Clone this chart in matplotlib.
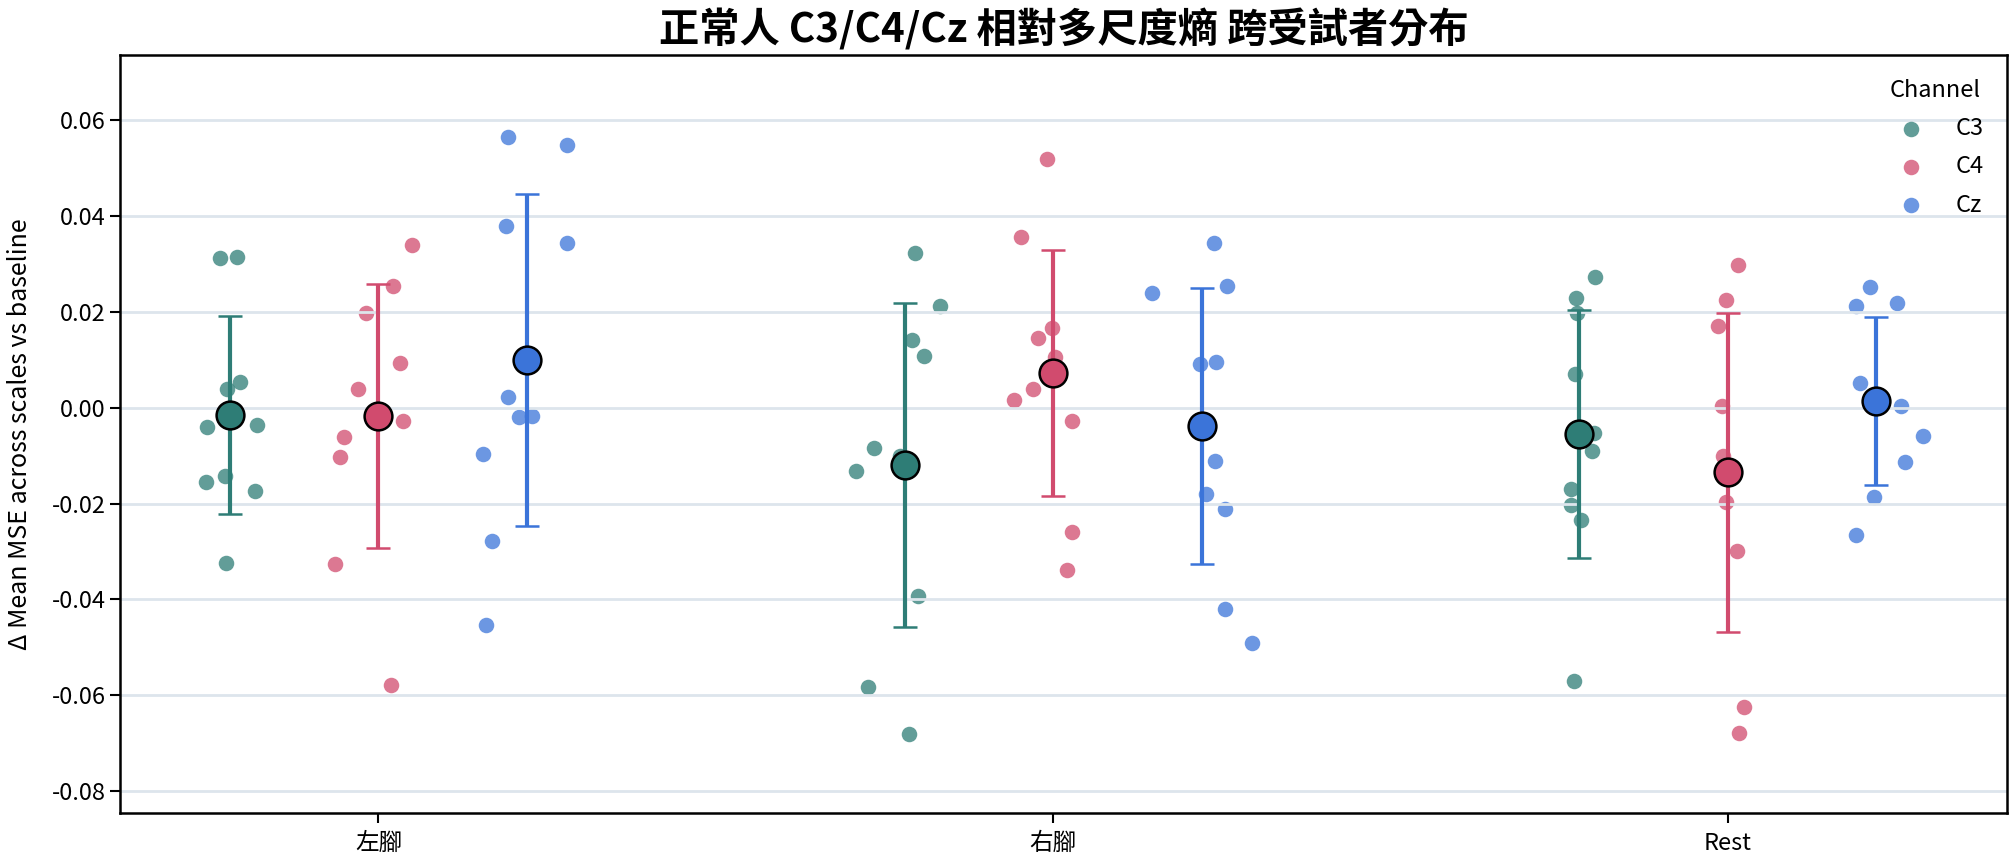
import numpy as np
import matplotlib
matplotlib.use("Agg")
import matplotlib.pyplot as plt

plt.rcParams['font.family'] = ['Noto Sans CJK TC', 'DejaVu Sans']

conditions = ['左腳', '右腳', 'Rest']
channels = ['C3', 'C4', 'Cz']

# 每位受試者的 Δ Mean MSE (讀圖估計)
left_C3 = [0.0312, 0.0315, 0.0040, 0.0053, -0.0041, -0.0037, -0.0156, -0.0142, -0.0174, -0.0324]
left_C4 = [0.0339, 0.0255, 0.0198, 0.0093, 0.0040, -0.0028, -0.0062, -0.0103, -0.0326, -0.0578]
left_Cz = [0.0564, 0.0549, 0.0379, 0.0343, 0.0022, -0.0019, -0.0017, -0.0096, -0.0278, -0.0453]
right_C3 = [0.0323, 0.0212, 0.0141, 0.0108, -0.0085, -0.0101, -0.0132, -0.0392, -0.0583, -0.0680]
right_C4 = [0.0520, 0.0357, 0.0166, 0.0145, 0.0106, 0.0040, 0.0016, -0.0028, -0.0259, -0.0338]
right_Cz = [0.0343, 0.0239, 0.0253, 0.0091, 0.0095, -0.0111, -0.0180, -0.0211, -0.0420, -0.0490]
rest_C3 = [0.0272, 0.0229, 0.0197, 0.0070, -0.0053, -0.0091, -0.0170, -0.0203, -0.0234, -0.0571]
rest_C4 = [0.0297, 0.0225, 0.0170, 0.0004, -0.0101, -0.0196, -0.0298, -0.0625, -0.0678, -0.0146]
rest_Cz = [0.0251, 0.0213, 0.0218, 0.0052, 0.0004, -0.0058, -0.0113, -0.0186, -0.0265, 0.0022]

# strip jitter (讀圖估計, 類別寬度單位)
jit_left_C3 = [-0.015, 0.011, -0.004, 0.015, -0.034, 0.040, -0.036, -0.007, 0.037, -0.006]
jit_left_C4 = [0.050, 0.021, -0.019, 0.032, -0.030, 0.036, -0.051, -0.057, -0.065, 0.019]
jit_left_Cz = [-0.028, 0.059, -0.031, 0.060, -0.028, -0.012, 0.007, -0.065, -0.052, -0.060]
jit_right_C3 = [0.015, 0.053, 0.011, 0.028, -0.045, -0.007, -0.072, 0.019, -0.055, 0.007]
jit_right_C4 = [-0.009, -0.048, -0.002, -0.023, 0.002, -0.030, -0.058, 0.028, 0.028, 0.020]
jit_right_Cz = [0.018, -0.074, 0.037, -0.003, 0.022, 0.020, 0.006, 0.034, 0.034, 0.074]
jit_rest_C3 = [0.023, -0.005, -0.004, -0.007, 0.021, 0.019, -0.012, -0.013, 0.003, -0.008]
jit_rest_C4 = [0.015, -0.003, -0.014, -0.009, -0.007, -0.003, 0.013, 0.024, 0.017, 0.000]
jit_rest_Cz = [-0.009, -0.030, 0.031, -0.024, 0.036, 0.069, 0.043, -0.003, -0.030, 0.003]

data = {
    ('左腳', 'C3'): (left_C3, jit_left_C3), ('左腳', 'C4'): (left_C4, jit_left_C4), ('左腳', 'Cz'): (left_Cz, jit_left_Cz),
    ('右腳', 'C3'): (right_C3, jit_right_C3), ('右腳', 'C4'): (right_C4, jit_right_C4), ('右腳', 'Cz'): (right_Cz, jit_right_Cz),
    ('Rest', 'C3'): (rest_C3, jit_rest_C3), ('Rest', 'C4'): (rest_C4, jit_rest_C4), ('Rest', 'Cz'): (rest_Cz, jit_rest_Cz),
}

colors = {'C3': '#2e7d76', 'C4': '#d14b6e', 'Cz': '#3b74d9'}
dodge = {'C3': -0.22, 'C4': 0.0, 'Cz': 0.22}

fig = plt.figure(figsize=(20.15, 8.64), dpi=100)
ax = fig.add_axes([0.0596, 0.0594, 0.9365, 0.8769])

handles = {}
for i, cond in enumerate(conditions):
    for ch in channels:
        vals, jit = data[(cond, ch)]
        vals = np.array(vals)
        x = i + dodge[ch] + np.array(jit)
        sc = ax.scatter(x, vals, s=125, color=colors[ch], alpha=0.75, linewidths=0, zorder=1)
        handles[ch] = sc
        # 平均 ± SD
        m = vals.mean()
        sd = vals.std(ddof=1)
        ax.errorbar(i + dodge[ch], m, yerr=sd, fmt='o', color=colors[ch], ecolor=colors[ch],
                    elinewidth=3, capsize=8.8, capthick=2.5, markersize=20,
                    markeredgecolor='black', markeredgewidth=1.8, zorder=3)

ax.set_xlim(-0.383, 2.414)
ax.set_ylim(-0.0845, 0.0736)
ax.set_xticks(range(len(conditions)))
ax.set_xticklabels(conditions)
yt = np.arange(-0.08, 0.061, 0.02)
ax.set_yticks(yt)
ax.set_yticklabels([f'{v:.2f}' for v in yt])
ax.yaxis.grid(True, color='#dde5ec', linewidth=2)
ax.tick_params(labelsize=17, length=7, width=1.5)
ax.tick_params(axis='x', pad=7)
for sp in ax.spines.values():
    sp.set_linewidth(1.8)

ax.set_ylabel('Δ Mean MSE across scales vs baseline', fontsize=18)
ax.yaxis.set_label_coords(-0.046, 0.5)
ax.set_title('正常人 C3/C4/Cz 相對多尺度熵 跨受試者分布', fontsize=29, fontweight='bold', pad=9)

ax.legend([handles[c] for c in channels], channels, title='Channel', loc='upper right',
          frameon=False, fontsize=17, title_fontsize=17, handletextpad=0.87,
          labelspacing=0.65, borderaxespad=0.6)

fig.savefig('out.png', dpi=100)
